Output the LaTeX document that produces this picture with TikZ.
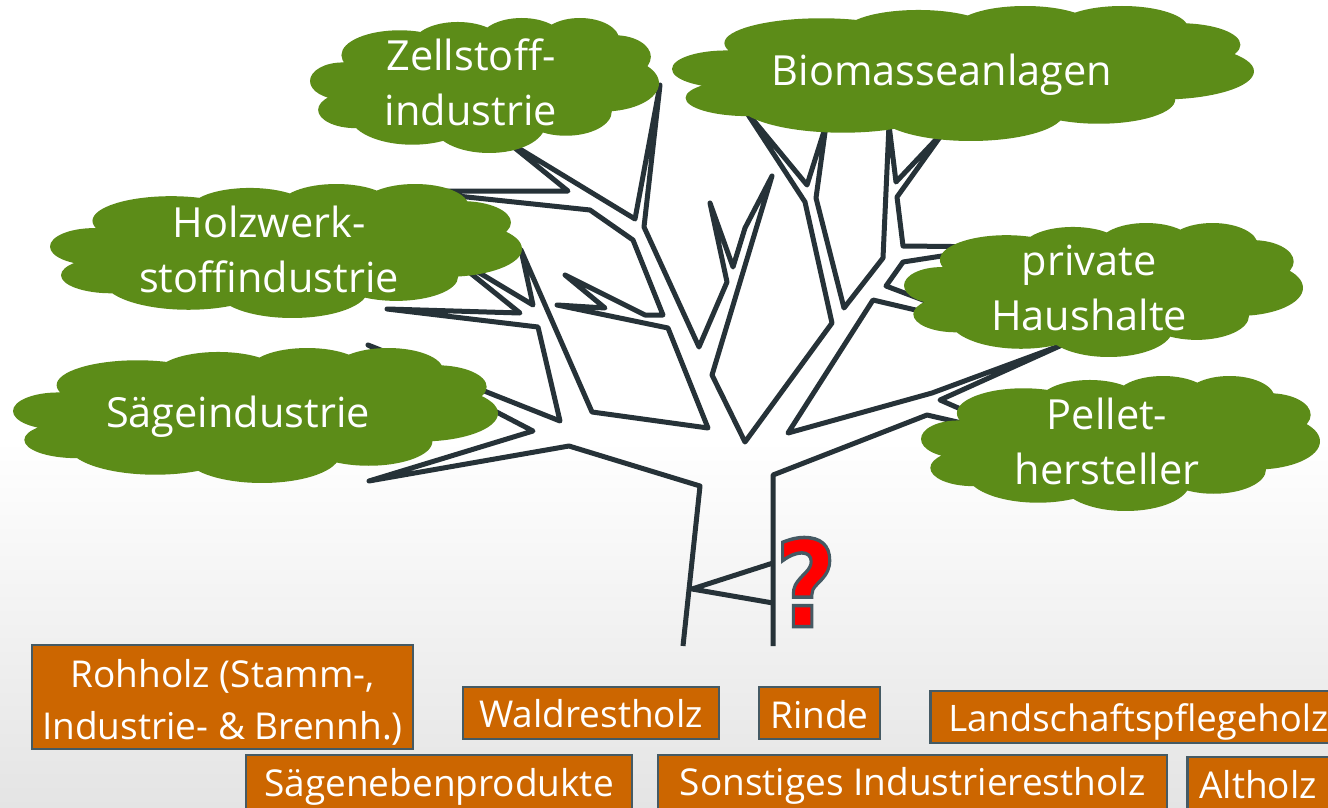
\documentclass[tikz,border=0pt]{standalone}
\usepackage{fontspec}
\setmainfont{Open Sans}
\newfontfamily\qfont{DejaVu Sans}
\definecolor{leaf}{RGB}{92,140,24}
\definecolor{wood}{RGB}{38,50,56}
\definecolor{crate}{RGB}{204,102,0}
\definecolor{crateline}{RGB}{69,90,100}
\definecolor{groundgrey}{RGB}{228,228,228}
\newcommand{\leafcloud}[4]{%
\begin{scope}[shift={(#1,#2)},xscale=#3/1500,yscale=#4/407]
\fill[leaf]
 (385,112) ellipse [x radius=250,y radius=75]
 (635,77) ellipse [x radius=190,y radius=65]
 (910,67) ellipse [x radius=180,y radius=67]
 (1160,67) ellipse [x radius=170,y radius=67]
 (1310,117) ellipse [x radius=155,y radius=65]
 (1260,197) ellipse [x radius=240,y radius=85]
 (1100,282) ellipse [x radius=197,y radius=73]
 (770,322) ellipse [x radius=240,y radius=85]
 (440,292) ellipse [x radius=270,y radius=90]
 (195,277) ellipse [x radius=160,y radius=55]
 (140,190) ellipse [x radius=140,y radius=56]
 (750,200) ellipse [x radius=600,y radius=150];
\end{scope}}
\newcommand{\boxline}[2]{\smash{\raisebox{#1}{#2}}}
\tikzset{
 cloudtext/.style={text=white,font=\fontsize{41.5}{55}\selectfont,align=center,inner sep=0pt},
 cratebox/.style={draw=crateline,line width=2.5pt,fill=crate,text=white,inner sep=0pt,
   font=\fontsize{37}{52}\selectfont,align=center},
 treeline/.style={draw=wood,line width=5pt,line join=round,line cap=butt}
}
\begin{document}
\begin{tikzpicture}[x=1pt,y=-1pt]
\useasboundingbox (0,0) rectangle (1328,808);
\fill[white] (0,0) rectangle (1328,808);
\shade[top color=white,bottom color=groundgrey] (0,440) rectangle (1328,808);
% tree
\draw[treeline]
 (683,646) -- (700,486) -- (569,446) -- (369,481) -- (533,431) -- (368,345)
 -- (560,421) -- (538,327) -- (387,309) -- (520,313) -- (443,251) -- (533,305)
 -- (521,250) -- (592,412) -- (708,428) -- (668,328) -- (557,305) -- (605,308)
 -- (565,275) -- (645,315) -- (663,315) -- (633,240) -- (590,210) -- (410,191)
 -- (568,191) -- (505,140) -- (635,219) -- (660,85) -- (644,227) -- (699,347)
 -- (727,282) -- (710,203) -- (733,267) -- (745,228) -- (772,176) -- (712,375)
 -- (745,442) -- (832,323) -- (805,202) -- (745,110) -- (807,185) -- (826,125)
 -- (816,198) -- (844,308) -- (883,258) -- (889,125) -- (896,182) -- (945,130)
 -- (897,197) -- (903,246) -- (1000,247) -- (903,262) -- (886,286) -- (1005,331)
 -- (873,300) -- (788,433) -- (932,393) -- (1062,345) -- (940,400) -- (1027,438)
 -- (927,415) -- (773,475) -- (773,646);
\draw[treeline] (773,563) -- (692,589) -- (773,603);
% clouds
\leafcloud{310}{18}{349}{135}
\leafcloud{672}{6}{582}{135}
\leafcloud{50}{184}{472}{134}
\leafcloud{13}{348}{485}{135}
\leafcloud{904}{223}{399}{134}
\leafcloud{921}{376}{399}{135}
\node[cloudtext] (zell) at (471,82) {Zellstoff-\\industrie};
\node[cloudtext] (bio) at (942,75) {Biomasseanlagen};
\node[cloudtext] (holz) at (269,249) {Holzwerk-\\stoffindustrie};
\node[cloudtext] (saege) at (238,417) {Sägeindustrie};
\node[cloudtext] (priv) at (1089,288) {private\\Haushalte};
\node[cloudtext] (pellet) at (1107,441) {Pellet-\\hersteller};
% question mark
\node[inner sep=0pt,text=red,font=\fontsize{120}{120}\qfont\bfseries,xscale=.88] (q) at (806,582)
 {\special{pdf:code q 2 Tr 3.5 w 0.27 0.35 0.39 RG}?\special{pdf:code Q}};
% boxes
\node[cratebox,minimum width=381pt,minimum height=104pt] (roh) at (222.5,697) {\boxline{-12.6pt}{\begin{tabular}{@{}c@{}}Rohholz (Stamm-,\\Industrie- \& Brennh.)\end{tabular}}};
\node[cratebox,minimum width=256pt,minimum height=52pt] (wald) at (591,713) {\boxline{-14pt}{Waldrestholz}};
\node[cratebox,minimum width=121pt,minimum height=52pt] (rinde) at (819.5,713) {\boxline{-15pt}{Rinde}};
\node[cratebox,minimum width=420pt,minimum height=52pt,anchor=west,text width=400pt,align=left] (land) at (929,717) {\hspace*{8pt}\boxline{-14pt}{\fontsize{36.5}{52}\selectfont Landschaftspflegeholz}};
\node[cratebox,minimum width=386pt,minimum height=56pt] (saegen) at (439,783) {\boxline{-13pt}{Sägenebenprodukte}};
\node[cratebox,minimum width=509pt,minimum height=56pt] (sonst) at (912.5,783) {\boxline{-12pt}{Sonstiges Industrierestholz}};
\node[cratebox,minimum width=170pt,minimum height=56pt,anchor=west,text width=150pt,align=left] (alt) at (1186,785) {\hspace*{2pt}\boxline{-13pt}{Altholz}};
\end{tikzpicture}
\end{document}
